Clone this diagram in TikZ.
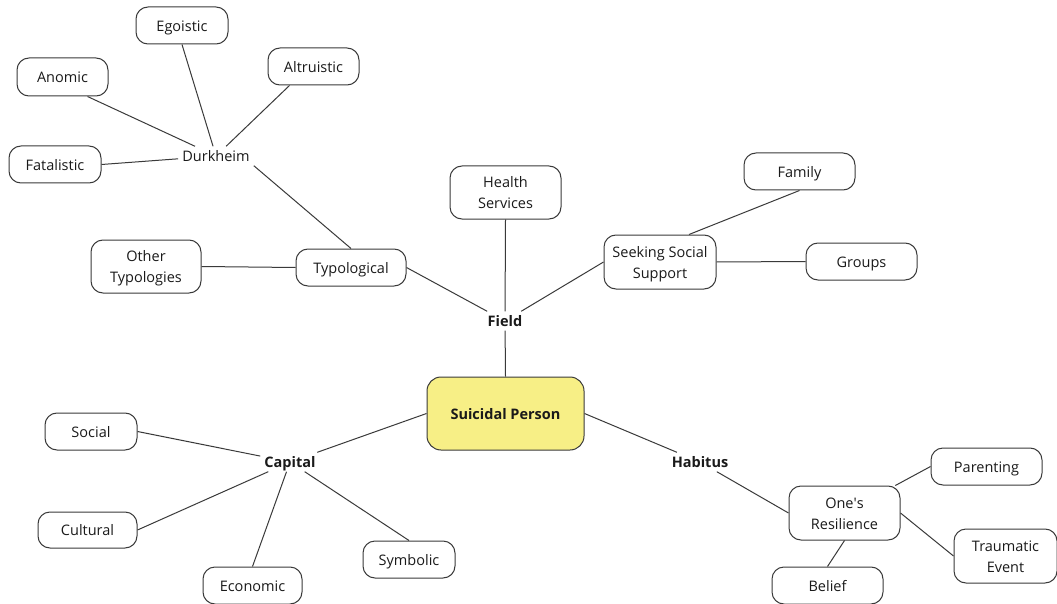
\documentclass[tikz,border=0pt]{standalone}
\usepackage{fontspec}
\setmainfont{Open Sans}
\usetikzlibrary{calc}
\definecolor{edgecol}{HTML}{3A3A3A}
\definecolor{txtcol}{HTML}{1A1A1A}
\definecolor{spfill}{HTML}{F7EF86}
\tikzset{
  box/.style={draw=edgecol, line width=1pt, rounded corners=12pt, align=center,
    inner sep=0pt, minimum width=111pt, minimum height=37pt, text=txtcol,
    text height=11.5pt, text depth=0pt,
    font=\fontsize{14.5}{21}\selectfont},
  twoline/.style={minimum height=53pt, text height=32.5pt, text depth=0pt},
  lbl/.style={inner sep=4pt, text=txtcol, text height=11pt, text depth=0pt,
    font=\fontsize{14.5}{21}\selectfont},
  blbl/.style={lbl, font=\fontsize{14.5}{21}\selectfont\bfseries},
  conn/.style={draw=edgecol, line width=1pt}
}
\begin{document}
\begin{tikzpicture}[x=1pt,y=-1pt]
\path[use as bounding box, fill=white] (0,0) rectangle (1057,604);

\node[box, minimum width=157pt, minimum height=73pt, fill=spfill, rounded corners=14pt,
  font=\fontsize{14.5}{21}\selectfont\bfseries] (sp) at (505.5,413.5) {Suicidal Person};

\node[blbl] (field) at (505,321) {Field};
\node[blbl] (cap) at (290,462) {Capital};
\node[blbl] (hab) at (700,462) {Habitus};
\node[lbl] (durk) at (216,156) {Durkheim};

\node[box, twoline] (hs) at (505.5,192.5) {Health\\Services};
\node[box, twoline, minimum width=112pt, minimum height=54pt] (seek) at (660,262) {Seeking Social\\Support};
\node[box] (fam) at (799.5,171.5) {Family};
\node[box] (grp) at (861.5,261.5) {Groups};
\node[box, minimum width=110pt] (typ) at (351,267.5) {Typological};
\node[box, twoline, minimum width=110pt] (oth) at (146,266.5) {Other\\Typologies};

\node[box, minimum width=92pt] (ego) at (182,25.5) {Egoistic};
\node[box, minimum width=91pt] (alt) at (313.5,66.5) {Altruistic};
\node[box, minimum width=91pt, minimum height=38pt] (ano) at (62.5,77) {Anomic};
\node[box, minimum width=92pt] (fat) at (55,164.5) {Fatalistic};

\node[box, minimum width=92pt] (soc) at (91,431.5) {Social};
\node[box, minimum width=99pt, minimum height=36pt] (cul) at (87.5,530) {Cultural};
\node[box, minimum width=99pt] (eco) at (252.5,585.5) {Economic};
\node[box, minimum width=92pt] (sym) at (409,559.5) {Symbolic};

\node[box, twoline, minimum height=54pt] (res) at (844.5,513) {One\textquotesingle s\\Resilience};
\node[box] (par) at (986.5,466.5) {Parenting};
\node[box, twoline, minimum width=103pt, minimum height=54pt] (tra) at (1005.5,556) {Traumatic\\Event};
\node[box] (bel) at (827.5,585.5) {Belief};

% connectors
\draw[conn] (hs.south) -- (field);
\draw[conn] (field) -- (sp.north);
\draw[conn] (typ.east) -- (field);
\draw[conn] (field) -- (seek.west);
\draw[conn] ($(seek.north)+(29,0)$) -- (fam.south);
\draw[conn] (seek.east) -- (grp.west);
\draw[conn] (oth.east) -- (typ.west);
\draw[conn] (typ.north) -- (durk.south east);
\draw[conn] (ego.south) -- (durk);
\draw[conn] ($(alt.south)+(-24,0)$) -- (durk);
\draw[conn] ($(ano.south)+(25,0)$) -- (durk);
\draw[conn] (fat.east) -- (durk);

\draw[conn] (sp.west) -- (cap);
\draw[conn] (soc.east) -- (cap);
\draw[conn] (cul.east) -- (cap);
\draw[conn] (eco.north) -- (cap);
\draw[conn] (sym.north) -- (cap);

\draw[conn] (sp.east) -- (hab);
\draw[conn] (hab) -- (res.west);
\draw[conn] (res) -- (par.west);
\draw[conn] (res.east) -- (tra.west);
\draw[conn] (res.south) -- (bel.north);
\end{tikzpicture}
\end{document}
